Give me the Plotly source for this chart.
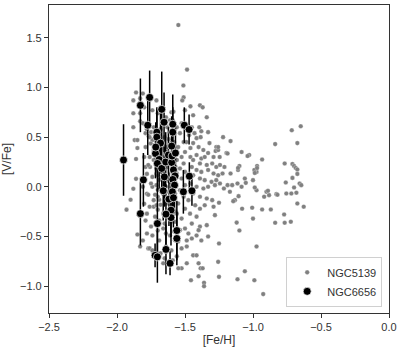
import plotly.graph_objects as go

# NGC5139 (gray points)
feh_5139 = [
    -1.93, -1.90, -1.88, -1.88, -1.86, -1.88, -1.87, -1.85, -1.85, -1.86, -1.86, -1.88, -1.84, -1.85, -1.83, -1.81, -1.83, -1.83, -1.83,
    -1.81, -1.80, -1.81, -1.79, -1.79, -1.80, -1.79, -1.78, -1.81, -1.78, -1.80, -1.79, -1.78, -1.78, -1.77, -1.76, -1.74, -1.74, -1.75,
    -1.73, -1.74, -1.74, -1.73, -1.73, -1.74, -1.75, -1.73, -1.74,
    -1.71, -1.70, -1.69, -1.70, -1.71, -1.69, -1.71, -1.69, -1.70, -1.69, -1.70, -1.69, -1.70, -1.69, -1.68, -1.65, -1.64, -1.64, -1.65,
    -1.66, -1.64, -1.66, -1.64, -1.65, -1.63, -1.65, -1.63, -1.65, -1.63, -1.64, -1.60, -1.61, -1.61, -1.60, -1.61, -1.60, -1.61, -1.60,
    -1.61, -1.60, -1.61, -1.60, -1.59, -1.66,
    -1.71, -1.70, -1.71, -1.70, -1.71, -1.70, -1.71, -1.70, -1.71, -1.73, -1.75, -1.757, -1.76, -1.752, -1.767,
    -1.78, -1.76, -1.72, -1.68, -1.66, -1.62, -1.68, -1.64, -1.72, -1.66, -1.62, -1.68, -1.63, -1.67, -1.62, -1.72, -1.68, -1.62, -1.66,
    -1.72, -1.76, -1.77, -1.77, -1.58, -1.57, -1.58, -1.57, -1.58, -1.55, -1.57,
    -1.585, -1.59, -1.56, -1.525, -1.537, -1.51, -1.55, -1.50, -1.525, -1.56, -1.51, -1.537, -1.50, -1.56, -1.525, -1.573, -1.50, -1.537,
    -1.573, -1.51, -1.55, -1.50, -1.56, -1.525, -1.573, -1.537, -1.573, -1.525, -1.56,
    -1.549, -1.485, -1.512, -1.51, -1.52, -1.48, -1.47, -1.45, -1.49,
    -1.39, -1.37, -1.46, -1.44, -1.50, -1.34, -1.395, -1.38, -1.33, -1.43, -1.415, -1.385, -1.32, -1.44, -1.46, -1.40, -1.365, -1.33,
    -1.29, -1.27, -1.275, -1.195, -1.245, -1.415, -1.38, -1.355, -1.46, -1.44, -1.39, -1.34, -1.30, -1.27, -1.45, -1.415, -1.38, -1.33,
    -1.29, -1.256, -1.44, -1.39, -1.355, -1.305, -1.27, -1.46, -1.415, -1.365, -1.33, -1.28, -1.243, -1.44, -1.39, -1.34, -1.475, -1.425,
    -1.39, -1.355, -1.463, -1.415, -1.45, -1.39, -1.40, -1.34, -1.50, -1.475, -1.415, -1.45, -1.38, -1.33, -1.487, -1.487, -1.44, -1.415,
    -1.40, -1.385, -1.37, -1.487, -1.525, -1.549, -1.456, -1.40, -1.36, -1.36,
    -0.837, -0.715, -0.649, -0.674, -0.767, -0.71, -0.698, -0.686, -0.674, -0.674, -0.71, -0.759, -0.657, -0.645, -0.698, -0.718, -0.681,
    -0.755, -0.674, -0.627, -0.771, -0.767, -0.722, -0.837, -0.869, -0.933, -0.828, -0.901, -0.882, -0.918, -0.974, -0.987, -1.0, -0.974,
    -0.97, -0.933, -0.99, -1.028, -1.04, -1.084, -1.006, -1.0, -1.08, -1.12, -1.10, -1.06, -1.114, -0.99, -0.974, -0.925, -1.133, -1.145,
    -1.17, -1.214, -1.187, -1.153, -1.114, -1.053, -1.084, -1.06, -1.165, -1.21, -1.243, -1.224, -1.187, -1.256, -1.256, -1.22, -1.165,
    -1.25, -1.29, -1.28, -1.25, -1.256, -1.25, -1.30, -1.10, -1.11, -0.97, -0.987, -1.11, -1.106, -0.89, -0.82,
]
vfe_5139 = [
    -0.23, -0.13, 0.74, 0.87, 0.95, 0.60, 0.47, 0.47, 0.39, 0.28, 0.08, -0.02, -0.28, -0.48, -0.60, -0.54, 0.89, 0.74, 0.66,
    0.94, 0.80, 0.64, 0.54, 0.40, 0.30, 0.20, 0.13, 0.0, -0.07, -0.17, -0.34, -0.27, -0.47, -0.62, -0.62, -0.64, -0.49, -0.40,
    -0.20, 0.0, 0.10, 0.27, 0.37, 0.47, 0.55, 0.60, 0.77,
    0.87, 0.74, 0.54, 0.44, 0.35, 0.30, 0.13, 0.07, -0.03, -0.13, -0.23, -0.34, -0.44, -0.54, -0.67, -0.72, -0.60, -0.47, -0.37,
    -0.27, -0.17, -0.07, 0.0, 0.10, 0.20, 0.30, 0.40, 0.50, 0.60, 0.70, 0.75, 0.67, 0.55, 0.44, 0.30, 0.17, 0.05, -0.10,
    -0.22, -0.35, -0.49, -0.64, -0.74, -0.77,
    0.47, 0.40, 0.335, 0.235, 0.185, 0.117, 0.017, -0.10, -0.185, -0.134, 0.034, 0.20, 0.30, 0.436, 0.51,
    0.58, 0.50, 0.52, 0.58, 0.45, 0.48, 0.38, 0.35, 0.42, 0.22, 0.26, 0.15, 0.08, -0.02, -0.05, -0.08, -0.18, -0.30, -0.42,
    -0.30, -0.20, -0.08, 0.22, 0.45, 0.20, -0.02, -0.25, -0.45, -0.55, 0.36,
    0.755, 0.67, 0.60, 0.64, 0.54, 0.45, 0.40, 0.35, 0.30, 0.27, 0.235, 0.185, 0.15, 0.134, 0.084, 0.05, 0.017, -0.034,
    -0.067, -0.10, -0.168, -0.22, -0.27, -0.32, -0.352, -0.436, -0.537, -0.62, -0.70,
    1.628, 1.18, 1.02, 0.90, 0.87, 0.62, 0.52, 0.60, 0.45,
    0.82, 0.80, 0.81, 0.72, 0.77, 0.70, 0.60, 0.56, 0.55, 0.54, 0.49, 0.50, 0.44, 0.44, 0.39, 0.40, 0.37, 0.34,
    0.30, 0.40, 0.36, 0.34, 0.30, 0.32, 0.285, 0.30, 0.30, 0.27, 0.235, 0.22, 0.235, 0.20, 0.20, 0.17, 0.15, 0.17,
    0.134, 0.117, 0.117, 0.084, 0.067, 0.05, 0.067, 0.034, 0.0, -0.017, 0.0, 0.017, 0.034, -0.067, -0.10, -0.117, -0.134, -0.185,
    -0.22, -0.185, -0.27, -0.30, -0.37, -0.40, -0.436, -0.386, -0.42, -0.47, -0.49, -0.52, -0.54, -0.50, -0.54, -0.60, -0.69, -0.69,
    -0.77, -0.82, -0.82, -0.77, -0.82, -0.82, -0.94, -0.90, -0.966, -1.0,
    0.43, 0.57, 0.61, 0.44, 0.235, 0.23, 0.21, 0.19, 0.175, 0.13, 0.09, 0.044, 0.034, 0.017, -0.007, -0.067, -0.06,
    -0.067, -0.168, -0.20, -0.278, -0.362, -0.352, -0.362, -0.228, -0.228, -0.074, -0.05, -0.084, -0.10, -0.034, -0.007, 0.067, 0.15,
    0.21, 0.275, 0.17, 0.32, 0.31, 0.35, -0.21, -0.32, -0.22, -0.36, -0.44, -0.85, -0.93, -0.94, -0.60, -1.08, -0.134, -0.144,
    -0.05, -0.017, 0.017, 0.017, 0.034, 0.04, 0.0, 0.084, 0.134, 0.20, 0.22, 0.134, 0.335, 0.37, 0.40, 0.50, 0.46,
    -0.16, -0.20, -0.285, -0.57, -0.755, -0.906, -0.134, 0.21, 0.17, 0.19, 0.14, 0.19, -0.094, -0.04, -0.08,
]

# NGC6656 (black points with error bars)
feh_6656 = [-1.952, -1.828, -1.76, -1.774, -1.806, -1.828, -1.671, -1.654, -1.707, -1.707, -1.68, -1.717,
            -1.69, -1.703, -1.671, -1.642, -1.622, -1.598, -1.59, -1.59, -1.598, -1.595, -1.57, -1.585,
            -1.652, -1.573, -1.66, -1.59, -1.577, -1.593, -1.618, -1.585, -1.603, -1.603, -1.64, -1.703,
            -1.56, -1.56, -1.64, -1.72, -1.703, -1.61, -1.512, -1.449, -1.468, -1.505, -1.47, -1.715]
vfe_6656 = [0.27, 0.82, 0.90, 0.62, 0.07, -0.27, 0.78, 0.65, 0.55, 0.50, 0.44, 0.335,
            0.275, 0.235, 0.185, 0.25, 0.32, 0.41, 0.63, 0.55, 0.245, 0.31, 0.34, 0.17,
            0.10, 0.11, -0.04, 0.074, 0.017, -0.05, -0.124, -0.11, -0.235, -0.31, -0.275, -0.37,
            -0.44, -0.52, -0.63, -0.69, -0.705, -0.77, -0.05, -0.04, 0.107, 0.62, 0.577, 0.40]
err_6656 = [0.36, 0.27, 0.27, 0.30, 0.27, 0.32, 0.38, 0.30, 0.25, 0.28, 0.30, 0.25,
            0.30, 0.28, 0.25, 0.30, 0.28, 0.30, 0.30, 0.25, 0.28, 0.25, 0.27, 0.28,
            0.30, 0.25, 0.30, 0.30, 0.28, 0.28, 0.27, 0.30, 0.27, 0.28, 0.30, 0.35,
            0.30, 0.27, 0.25, 0.12, 0.26, 0.12, 0.22, 0.15, 0.14, 0.18, 0.15, 0.25]

x_ticks = [-2.5, -2.0, -1.5, -1.0, -0.5, 0.0]
x_labels = ["\u22122.5", "\u22122.0", "\u22121.5", "\u22121.0", "\u22120.5", "0.0"]
y_ticks = [-1.0, -0.5, 0.0, 0.5, 1.0, 1.5]
y_labels = ["\u22121.0", "\u22120.5", "0.0", "0.5", "1.0", "1.5"]

fig = go.Figure()
fig.add_trace(go.Scatter(
    x=feh_5139, y=vfe_5139, mode="markers", name="NGC5139",
    marker=dict(color="#808080", size=4.6, line=dict(color="white", width=0.3))))
fig.add_trace(go.Scatter(
    x=feh_6656, y=vfe_6656, mode="markers", name="NGC6656",
    error_y=dict(type="data", array=err_6656, color="black", thickness=1.5, width=0),
    marker=dict(color="black", size=8, line=dict(color="white", width=0.7))))

axis_common = dict(showline=True, linecolor="#333333", linewidth=1.2, mirror=True,
                   ticks="outside", ticklen=4, tickwidth=1.1, tickcolor="#333333",
                   showgrid=False, zeroline=False, automargin=False,
                   tickfont=dict(family="Liberation Sans", size=11, color="#333333"))
fig.update_xaxes(range=[-2.5, 0.0], tickvals=x_ticks, ticktext=x_labels,
                 title=dict(text="[Fe/H]", font=dict(family="Liberation Sans", size=12, color="#333333"), standoff=3),
                 **axis_common)
fig.update_yaxes(range=[-1.27, 1.83], tickvals=y_ticks, ticktext=y_labels,
                 title=dict(text="[V/Fe]", font=dict(family="Liberation Sans", size=12, color="#333333"), standoff=5),
                 **axis_common)
fig.update_layout(
    width=407, height=357, margin=dict(l=49, r=18, t=5, b=44),
    plot_bgcolor="white", paper_bgcolor="white",
    legend=dict(x=0.98, y=0.02, xanchor="right", yanchor="bottom",
                bordercolor="#d0d0d0", borderwidth=1, bgcolor="rgba(255,255,255,0.8)",
                font=dict(family="Liberation Sans", size=11, color="#333333")),
)
# page body has an 8px default margin; drop it so the figure sits at the window corner
fig.write_html("out.html", config={"displayModeBar": False},
               post_script="document.body.style.margin='0';")
